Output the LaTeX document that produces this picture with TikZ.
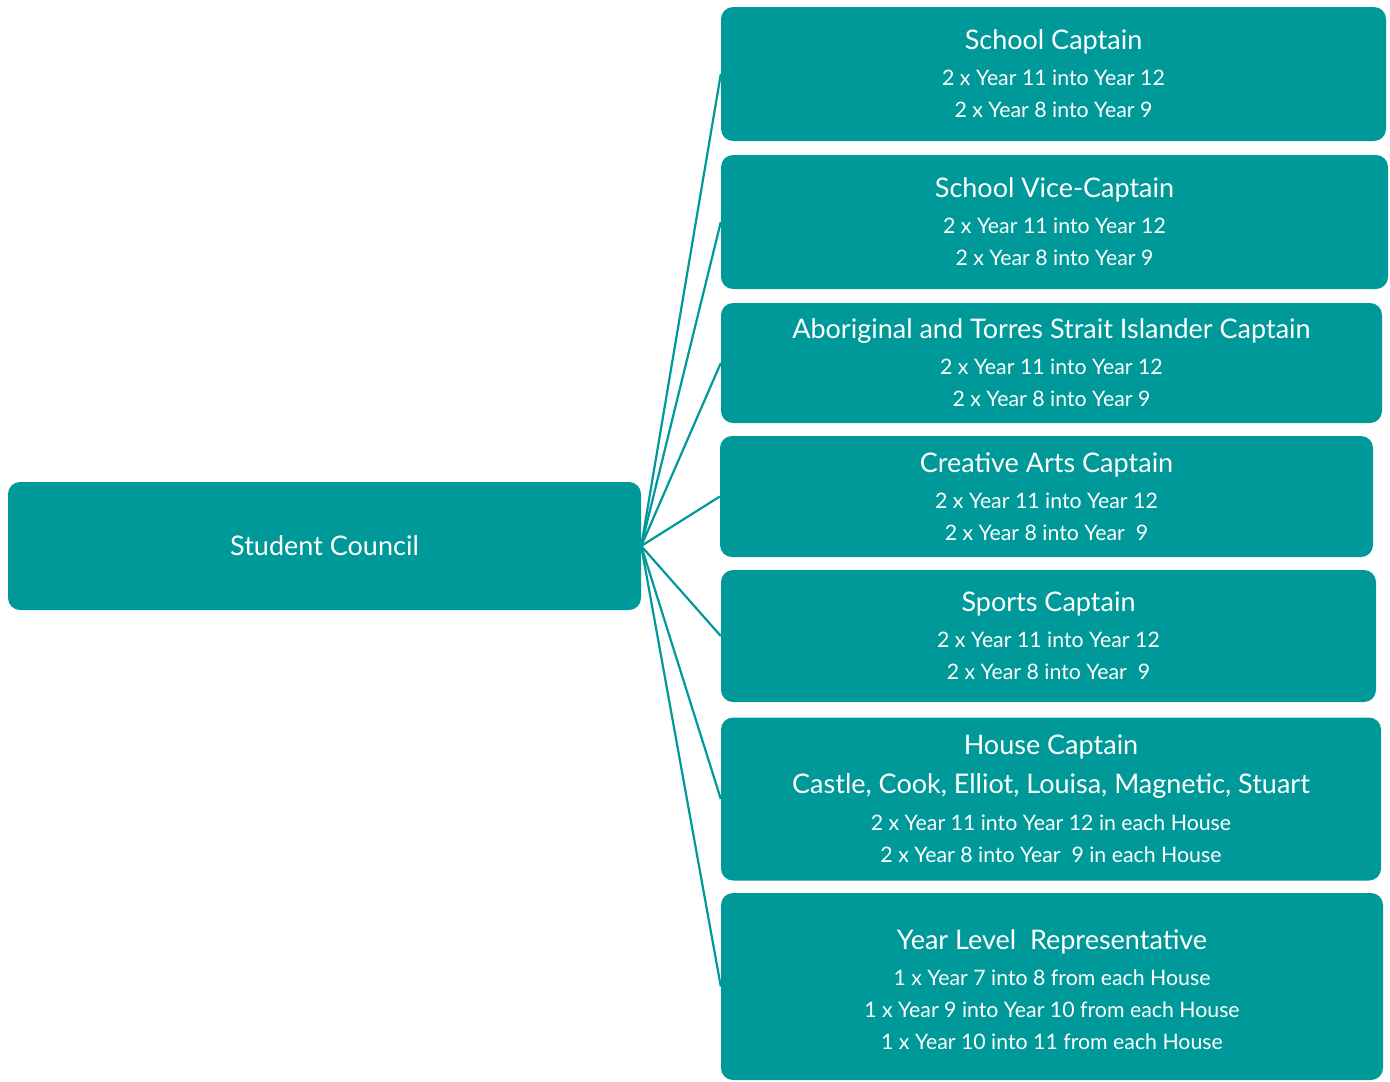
\documentclass[tikz,border=0pt]{standalone}
\usepackage{fontspec}
\setmainfont{Lato}
\usetikzlibrary{positioning,shapes}
\definecolor{teal}{RGB}{0,153,153}
\newcommand{\rolehead}[1]{{\fontsize{27}{32}\selectfont #1}}

\begin{document}
\begin{tikzpicture}[x=1pt,y=-1pt]
  \useasboundingbox (0,0) rectangle (1390,1082);
  \tikzstyle{every node}=[font=\fontsize{21.3}{32}\selectfont,align=center,text=white]
  \tikzstyle{box}=[fill=teal,rounded corners=12pt,inner sep=0pt]
  \node[box,minimum width=633pt,minimum height=128pt] (sc) at (324.5,546)
    {\rolehead{Student Council}};
  \node[box,minimum width=665pt,minimum height=134pt] (r1) at (1053.5,74)
    {\rolehead{School Captain}\\[4pt] 2 x Year 11 into Year 12 \\ 2 x Year 8 into Year 9};
  \node[box,minimum width=667pt,minimum height=134pt] (r2) at (1054.5,222)
    {\rolehead{School Vice-Captain}\\[4pt] 2 x Year 11 into Year 12 \\ 2 x Year 8 into Year 9};
  \node[box,minimum width=661pt,minimum height=120pt] (r3) at (1051.5,363)
    {\rolehead{Aboriginal and Torres Strait Islander Captain}\\[4pt] 2 x Year 11 into Year 12 \\ 2 x Year 8 into Year 9};
  \node[box,minimum width=653pt,minimum height=121pt] (r4) at (1046.5,496.5)
    {\rolehead{Creative Arts Captain}\\[4pt] 2 x Year 11 into Year 12 \\ 2 x Year 8 into Year \ 9};
  \node[box,minimum width=655pt,minimum height=132pt] (r5) at (1048.5,636)
    {\rolehead{Sports Captain}\\[4pt] 2 x Year 11 into Year 12 \\ 2 x Year 8 into Year \ 9};
  \node[box,minimum width=660pt,minimum height=163pt] (r6) at (1051,799)
    {\rolehead{House Captain}\\[7pt] \rolehead{Castle, Cook, Elliot, Louisa, Magnetic, Stuart}\\[5pt]
     2 x Year 11 into Year 12 in each House \\ 2 x Year 8 into Year \ 9 in each House};
  \node[box,minimum width=662pt,minimum height=187pt] (r7) at (1052,986.5)
    {\rolehead{\rule{0pt}{27pt}Year Level \ Representative}\\[4pt] 1 x Year 7 into 8 from each House \\
     1 x Year 9 into Year 10 from each House \\ 1 x Year 10 into 11 from each House};

  \foreach \to in {r1,r2,r3,r4,r5,r6,r7}
    \draw[teal,line width=2.2pt] (sc.east) -- (\to.west);

\end{tikzpicture}
\end{document}
